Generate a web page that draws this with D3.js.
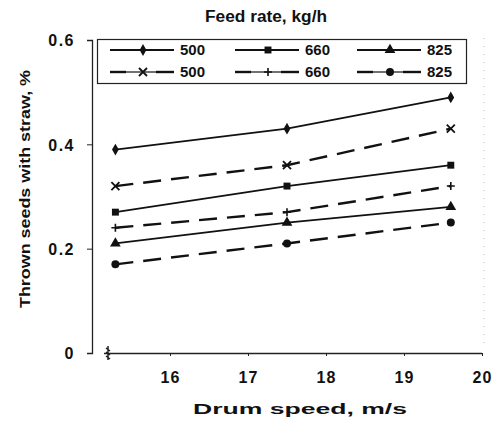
<!DOCTYPE html>
<html>
<head>
<meta charset="utf-8">
<style>
  body { margin: 0; background: #fff; font-family: "Liberation Sans", Arial, sans-serif; }
  text { font-weight: bold; fill: #111; }
</style>
</head>
<body>
<div id="chart"></div>
<script src="https://d3js.org/d3.v7.min.js"></script>
<script>
// ---- data ----
var speeds = [15.3, 17.5, 19.6];
var xTicks = [16, 17, 18, 19, 20];
var yTicks = [0, 0.2, 0.4, 0.6];
var rates = ["500", "660", "825", "500", "660", "825"];
var kinds = ["solid", "solid", "solid", "dashed", "dashed", "dashed"];
var symbols = ["diamond", "square", "triangle", "cross", "plus", "circle"];
var rate500a = [0.39, 0.43, 0.49];
var rate660a = [0.27, 0.32, 0.36];
var rate825a = [0.21, 0.25, 0.28];
var rate500b = [0.32, 0.36, 0.43];
var rate660b = [0.24, 0.27, 0.32];
var rate825b = [0.17, 0.21, 0.25];
var seriesValues = [rate500a, rate660a, rate825a, rate500b, rate660b, rate825b];

var width = 500, height = 423;
var svg = d3.select("#chart").append("svg").attr("width", width).attr("height", height);

var x = d3.scaleLinear().domain([15, 20]).range([92, 482]);
var y = d3.scaleLinear().domain([0, 0.6]).range([353, 40]);

// faint dotted right edge (scan remnants)
svg.append("line").attr("x1", 484).attr("x2", 484).attr("y1", 38).attr("y2", 350)
  .attr("stroke", "#bbb").attr("stroke-width", 1).attr("stroke-dasharray", "1,7");

// axes
var yAxis = svg.append("g").attr("transform", "translate(92,0)")
  .call(d3.axisLeft(y).tickValues(yTicks).tickSize(5).tickFormat(function (d) { return d === 0 ? "0" : d3.format(".1f")(d); }));
yAxis.select(".domain").attr("stroke", "#222").attr("stroke-width", 1.3);
yAxis.selectAll(".tick line").attr("stroke", "#222");
yAxis.selectAll("text").attr("x", -17).attr("dy", "0.36em")
  .style("font-size", "16px").style("letter-spacing", "1.5px").style("font-family", "Liberation Sans, Arial, sans-serif");

var xAxis = svg.append("g").attr("transform", "translate(0,353)")
  .call(d3.axisBottom(x).tickValues(xTicks).tickSize(3).tickSizeOuter(0).tickFormat(d3.format("d")));
xAxis.select(".domain").attr("d", "M104,0.5H482").attr("stroke", "#222").attr("stroke-width", 1.3);
xAxis.selectAll(".tick line").attr("stroke", "#222");
xAxis.selectAll("text").attr("y", 30).attr("dy", 0)
  .style("font-size", "16px").style("letter-spacing", "1px").style("font-family", "Liberation Sans, Arial, sans-serif");

// axis break mark
var brk = svg.append("g").attr("stroke", "#222").attr("stroke-width", 1.5).attr("fill", "none");
brk.append("path").attr("d", "M106,348 l4,3 M106,352 l4,3 M106,356 l4,3 M108,346 v14");

// titles
svg.append("text").attr("x", 266).attr("y", 22).attr("text-anchor", "middle")
  .attr("textLength", 122).attr("lengthAdjust", "spacingAndGlyphs")
  .style("font-size", "16px").text("Feed rate, kg/h");
svg.append("text").attr("x", 300).attr("y", 414).attr("text-anchor", "middle")
  .attr("textLength", 214).attr("lengthAdjust", "spacingAndGlyphs")
  .style("font-size", "15px").text("Drum speed, m/s");
svg.append("text").attr("transform", "translate(30,189) rotate(-90)").attr("text-anchor", "middle")
  .attr("textLength", 238).attr("lengthAdjust", "spacingAndGlyphs")
  .style("font-size", "15px").text("Thrown seeds with straw, %");

// marker drawer
function marker(g, kind, cx, cy) {
  if (kind === "diamond") g.append("path").attr("d", d3.symbol(d3.symbolDiamond, 40)()).attr("transform", "translate(" + cx + "," + cy + ")").attr("fill", "#111");
  if (kind === "square") g.append("path").attr("d", d3.symbol(d3.symbolSquare, 48)()).attr("transform", "translate(" + cx + "," + cy + ")").attr("fill", "#111");
  if (kind === "triangle") g.append("path").attr("d", d3.symbol(d3.symbolTriangle, 50)()).attr("transform", "translate(" + cx + "," + cy + ")").attr("fill", "#111");
  if (kind === "circle") g.append("circle").attr("cx", cx).attr("cy", cy).attr("r", 4).attr("fill", "#111");
  if (kind === "cross") g.append("path").attr("d", "M" + (cx - 4) + "," + (cy - 4) + "l8,8M" + (cx + 4) + "," + (cy - 4) + "l-8,8").attr("stroke", "#111").attr("stroke-width", 1.8);
  if (kind === "plus") g.append("path").attr("d", "M" + (cx - 4) + "," + cy + "h8M" + cx + "," + (cy - 4) + "v8").attr("stroke", "#111").attr("stroke-width", 1.6);
}

var line = d3.line().x(function (d, i) { return x(speeds[i]); }).y(function (d) { return y(d); });

seriesValues.forEach(function (vals, s) {
  var g = svg.append("g");
  g.append("path").attr("d", line(vals)).attr("fill", "none").attr("stroke", "#111")
    .attr("stroke-width", kinds[s] === "solid" ? 1.8 : 2.4)
    .attr("stroke-dasharray", kinds[s] === "solid" ? null : "18,10");
  vals.forEach(function (v, i) { marker(g, symbols[s], x(speeds[i]), y(v)); });
});

// legend
var lg = svg.append("g");
lg.append("rect").attr("x", 97.5).attr("y", 39.5).attr("width", 369).attr("height", 44)
  .attr("fill", "#fff").attr("stroke", "#222").attr("stroke-width", 1.2);
var colX = [110, 235, 357];
rates.forEach(function (r, i) {
  var cx = colX[i % 3], cy = i < 3 ? 50 : 72;
  var dashed = kinds[i] === "dashed";
  if (dashed) {
    lg.append("line").attr("x1", cx).attr("x2", cx + 16).attr("y1", cy).attr("y2", cy).attr("stroke", "#111").attr("stroke-width", 2.4);
    lg.append("line").attr("x1", cx + 46).attr("x2", cx + 64).attr("y1", cy).attr("y2", cy).attr("stroke", "#111").attr("stroke-width", 2.4);
    lg.append("line").attr("x1", cx + 16).attr("x2", cx + 46).attr("y1", cy).attr("y2", cy).attr("stroke", "#111").attr("stroke-width", 1.2);
  } else {
    lg.append("line").attr("x1", cx).attr("x2", cx + 64).attr("y1", cy).attr("y2", cy).attr("stroke", "#111").attr("stroke-width", 2);
  }
  marker(lg, symbols[i], cx + 33, cy);
  lg.append("text").attr("x", cx + 70).attr("y", cy + 5).style("font-size", "15px").text(r);
});
</script>
</body>
</html>
